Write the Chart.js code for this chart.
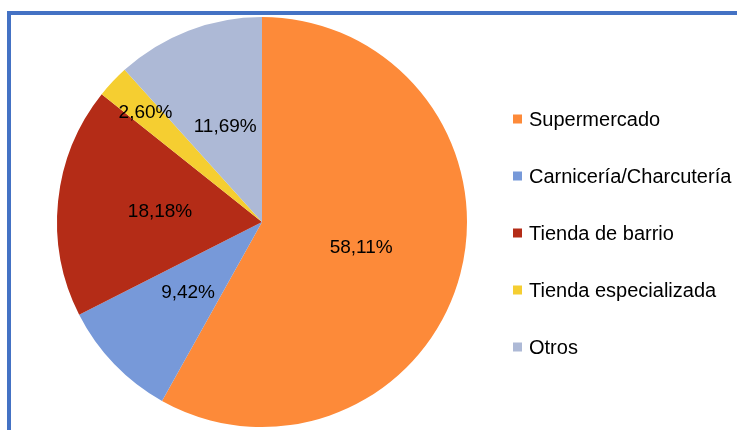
<!DOCTYPE html>
<html>
<head>
<meta charset="utf-8">
<script src="https://cdn.jsdelivr.net/npm/chart.js@4"></script>
<style>
  html, body { margin: 0; padding: 0; background: #fff; overflow: hidden; }
  #wrap { position: relative; width: 737px; height: 430px; }
  #frame {
    position: absolute; left: 7px; top: 11px; right: -10px; bottom: -10px;
    border-top: 4px solid #4472c4; border-left: 4px solid #4472c4;
  }
  canvas { position: absolute; left: 0; top: 0; }
</style>
</head>
<body>
<div id="wrap">
  <div id="frame"></div>
  <canvas id="chart" width="737" height="430"></canvas>
</div>
<script>
const categories = ["Supermercado", "Carnicería/Charcutería", "Tienda de barrio", "Tienda especializada", "Otros"];
const shares = [58.11, 9.42, 18.18, 2.60, 11.69];
const colors = ["#fd8a39", "#7799d9", "#b42c17", "#f5ce31", "#adb9d6"];

const FONT = '"Liberation Sans", Arial, sans-serif';
const fmt = (v) => v.toFixed(2).replace(".", ",") + "%";

/* slice labels, pushed outward on thin slices like Excel does */
const sliceLabels = {
  id: "sliceLabels",
  afterDatasetsDraw(chart) {
    const ctx = chart.ctx;
    const meta = chart.getDatasetMeta(0);
    ctx.save();
    ctx.font = "19px " + FONT;
    ctx.fillStyle = "#000";
    ctx.textAlign = "center";
    ctx.textBaseline = "middle";
    meta.data.forEach((arc, i) => {
      const mid = (arc.startAngle + arc.endAngle) / 2;
      const f = shares[i] < 5 ? 0.78 : 0.5;
      const r = arc.outerRadius * f;
      ctx.fillText(fmt(shares[i]), arc.x + Math.cos(mid) * r, arc.y + Math.sin(mid) * r);
    });
    ctx.restore();
  },
};

/* legend on the right */
const sideLegend = {
  id: "sideLegend",
  afterDraw(chart) {
    const ctx = chart.ctx;
    ctx.save();
    ctx.font = "20px " + FONT;
    ctx.textBaseline = "middle";
    categories.forEach((name, i) => {
      const y = 119 + i * 57;
      ctx.fillStyle = colors[i];
      ctx.fillRect(513, y - 4.5, 9, 9);
      ctx.fillStyle = "#000";
      ctx.fillText(name, 529, y + 1);
    });
    ctx.restore();
  },
};

new Chart(document.getElementById("chart"), {
  type: "pie",
  data: {
    labels: categories,
    datasets: [{ data: shares, backgroundColor: colors, borderWidth: 0, hoverOffset: 0 }],
  },
  options: {
    responsive: false,
    animation: false,
    layout: { padding: { left: 57, top: 17, right: 270, bottom: 3 } },
    plugins: { legend: { display: false }, tooltip: { enabled: false } },
  },
  plugins: [sliceLabels, sideLegend],
});
</script>
</body>
</html>
